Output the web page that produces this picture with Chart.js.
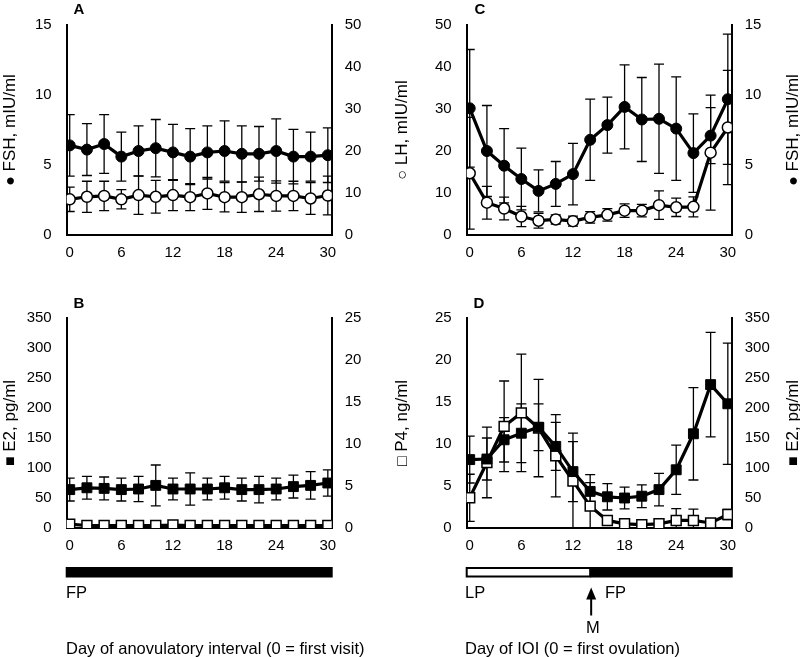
<!DOCTYPE html>
<html>
<head>
<meta charset="utf-8">
<script src="https://cdn.jsdelivr.net/npm/chart.js@4.4.0/dist/chart.umd.min.js"></script>
<style>
body { margin: 0; background: #fff; }
#wrap { position: relative; width: 800px; height: 657px; overflow: hidden; font-family: "Liberation Sans", Arial, sans-serif; color: #000; }
canvas { position: absolute; }
.lbl { position: absolute; white-space: nowrap; font-size: 16.5px; line-height: 1; transform: translateY(-50%); }
.ytitle { position: absolute; white-space: nowrap; font-size: 17px; line-height: 1; transform: translate(-50%, -50%) rotate(-90deg); }
.sym { font-size: 16px; vertical-align: 0; }
.letter { position: absolute; font-weight: bold; font-size: 15px; line-height: 1; transform: translate(-50%, -50%); }
</style>
</head>
<body>
<div id="wrap">
  <canvas id="cA" width="400" height="290" style="left:0;top:0"></canvas>
  <canvas id="cC" width="400" height="290" style="left:400px;top:0"></canvas>
  <canvas id="cB" width="400" height="364" style="left:0;top:293px"></canvas>
  <canvas id="cD" width="400" height="364" style="left:400px;top:293px"></canvas>

  <div class="letter" style="left:79px;top:8px">A</div>
  <div class="letter" style="left:79px;top:302px">B</div>
  <div class="letter" style="left:480px;top:8px">C</div>
  <div class="letter" style="left:479px;top:302px">D</div>

  <div class="ytitle" style="left:9px;top:130px"><span class="sym">●</span> FSH, mIU/ml</div>
  <div class="ytitle" style="left:401px;top:130px"><span class="sym">○</span> LH, mIU/ml</div>
  <div class="ytitle" style="left:792px;top:130px"><span class="sym">●</span> FSH, mIU/ml</div>
  <div class="ytitle" style="left:9px;top:423px"><span class="sym">■</span> E2, pg/ml</div>
  <div class="ytitle" style="left:401px;top:423px"><span class="sym">□</span> P4, ng/ml</div>
  <div class="ytitle" style="left:792px;top:423px"><span class="sym">■</span> E2, pg/ml</div>

  <div class="lbl" style="left:66px;top:592px">FP</div>
  <div class="lbl" style="left:465px;top:592px">LP</div>
  <div class="lbl" style="left:605px;top:592px">FP</div>
  <div class="lbl" style="left:586px;top:627px">M</div>
  <div class="lbl" style="left:66px;top:648px">Day of anovulatory interval (0 = first visit)</div>
  <div class="lbl" style="left:465px;top:648px">Day of IOI (0 = first ovulation)</div>
</div>
<script>
// days sampled every 2 days
const days = [0, 2, 4, 6, 8, 10, 12, 14, 16, 18, 20, 22, 24, 26, 28, 30];
const dayTicks = [0, 6, 12, 18, 24, 30];
const fshTicks = [0, 5, 10, 15];
const lhTicks = [0, 10, 20, 30, 40, 50];
const e2Ticks = [0, 50, 100, 150, 200, 250, 300, 350];
const p4Ticks = [0, 5, 10, 15, 20, 25];

// A: anovulatory interval, gonadotropins
const fshA    = [6.4, 6.1, 6.5, 5.6, 6.0, 6.2, 5.9, 5.6, 5.9, 6.0, 5.8, 5.8, 6.0, 5.6, 5.6, 5.7];
const fshAErr = [2.2, 1.85, 2.1, 1.75, 1.8, 2.05, 2.0, 2.0, 1.9, 2.15, 2.0, 1.95, 2.3, 1.95, 1.75, 1.95];
const lhA     = [8.5, 9.1, 9.3, 8.5, 9.5, 9.1, 9.5, 9.0, 9.9, 9.0, 9.0, 9.7, 9.3, 9.3, 8.7, 9.4];
const lhAErr  = [2.9, 3.7, 3.5, 2.3, 4.6, 3.9, 3.7, 3.2, 3.8, 3.5, 3.6, 4.1, 3.6, 3.5, 3.8, 4.6];

// B: anovulatory interval, steroids
const e2B    = [64, 67, 66, 64, 65, 71, 65, 65, 65, 67, 64, 64, 65, 69, 71, 75];
const e2BErr = [19, 19, 19, 19, 21, 34, 18, 27, 18, 19, 19, 22, 18, 19, 23, 22];
const p4B    = [0.45, 0.3, 0.3, 0.3, 0.3, 0.3, 0.35, 0.3, 0.3, 0.3, 0.3, 0.3, 0.3, 0.3, 0.3, 0.3];

// C: interovulatory interval, gonadotropins
const fshC    = [9.05, 6.0, 4.95, 4.0, 3.15, 3.65, 4.35, 6.8, 7.85, 9.15, 8.25, 8.3, 7.6, 5.85, 7.1, 9.7];
const fshCErr = [4.2, 3.25, 2.65, 2.2, 1.5, 1.6, 2.2, 2.9, 2.0, 3.0, 3.0, 3.9, 3.7, 2.8, 2.0, 4.65];
const lhC     = [14.7, 7.7, 6.3, 4.4, 3.4, 3.7, 3.3, 4.2, 4.8, 5.8, 5.8, 7.1, 6.6, 6.7, 19.6, 25.6];
const lhCErr  = [13.3, 3.9, 2.7, 2.4, 1.75, 1.1, 1.2, 1.35, 1.5, 1.6, 1.5, 3.4, 2.2, 2.4, 13.7, 13.6];

// D: interovulatory interval, steroids
const p4D    = [3.6, 7.8, 12.1, 13.7, 11.9, 8.6, 5.6, 2.6, 0.9, 0.5, 0.4, 0.5, 0.9, 0.9, 0.6, 1.6];
const p4DErr = [2.8, 4.2, 5.4, 7.0, 5.8, 4.9, 5.7, 2.8, 0.5, 0.3, 0.2, 0.2, 1.4, 1.35, 0.2, 0.6];
const e2D    = [114, 115, 147, 158, 168, 136, 94, 61, 52, 50, 53, 64, 97, 157, 239, 207];
const e2DErr = [39, 35, 37, 49, 39, 40, 50, 28, 22, 18, 19, 27, 41, 77, 87, 101];

const mensesDay = 14;

const tickFont = { family: '"Liberation Sans", Arial, sans-serif', size: 15 };

const closedCircle = { pointStyle: 'circle', pointRadius: 5.5, pointBackgroundColor: '#000', pointBorderColor: '#000', pointBorderWidth: 1 };
const openCircle   = { pointStyle: 'circle', pointRadius: 5.5, pointBackgroundColor: '#fff', pointBorderColor: '#000', pointBorderWidth: 1.5 };
const closedSquare = { pointStyle: 'rect', pointRadius: 7, pointBackgroundColor: '#000', pointBorderColor: '#000', pointBorderWidth: 1 };
const openSquare   = { pointStyle: 'rect', pointRadius: 7, pointBackgroundColor: '#fff', pointBorderColor: '#000', pointBorderWidth: 1.5 };

function series(vals, err, axis, style, order) {
    return Object.assign({
        data: days.map((d, i) => ({ x: d, y: vals[i] })),
        err: err,
        yAxisID: axis,
        borderColor: '#000',
        borderWidth: 3.2,
        tension: 0,
        fill: false,
        order: order
    }, style);
}

// vertical error bars with caps
const errorBars = {
    id: 'errorBars',
    beforeDatasetsDraw(chart) {
        const ctx = chart.ctx, a = chart.chartArea, xs = chart.scales.x;
        ctx.save();
        ctx.beginPath();
        ctx.rect(a.left, a.top - 2, a.right - a.left, a.bottom - a.top + 2);
        ctx.clip();
        ctx.strokeStyle = '#000';
        ctx.lineWidth = 1.3;
        chart.data.datasets.forEach(ds => {
            if (!ds.err) return;
            const ys = chart.scales[ds.yAxisID];
            ds.data.forEach((p, i) => {
                const px = xs.getPixelForValue(p.x);
                const t = ys.getPixelForValue(p.y + ds.err[i]);
                const b = ys.getPixelForValue(p.y - ds.err[i]);
                ctx.beginPath();
                ctx.moveTo(px, t); ctx.lineTo(px, b);
                ctx.moveTo(px - 5, t); ctx.lineTo(px + 5, t);
                ctx.moveTo(px - 5, b); ctx.lineTo(px + 5, b);
                ctx.stroke();
            });
        });
        ctx.restore();
    }
};

// phase bar under the x axis (FP / LP with menses arrow)
function phaseBar(splitDay) {
    return {
        id: 'phaseBar',
        afterDraw(chart) {
            const ctx = chart.ctx, a = chart.chartArea, xs = chart.scales.x;
            const y0 = a.bottom + 39, h = 10.5;
            const l = a.left - 1, r = a.right + 1;
            ctx.save();
            ctx.fillStyle = '#000';
            if (splitDay == null) {
                ctx.fillRect(l, y0, r - l, h);
            } else {
                const sx = xs.getPixelForValue(splitDay);
                ctx.fillRect(sx, y0, r - sx, h);
                ctx.lineWidth = 2;
                ctx.strokeStyle = '#000';
                ctx.strokeRect(l + 1, y0 + 1, sx - l - 1, h - 2);
                // arrow marking menses
                ctx.beginPath();
                ctx.moveTo(sx + 1, y0 + h + 10);
                ctx.lineTo(sx - 4, y0 + h + 22);
                ctx.lineTo(sx + 6, y0 + h + 22);
                ctx.closePath();
                ctx.fill();
                ctx.fillRect(sx, y0 + h + 20, 2, 18);
            }
            ctx.restore();
        }
    };
}

function yAxis(position, ticks, width, pad) {
    return {
        type: 'linear',
        position: position,
        min: ticks[0],
        max: ticks[ticks.length - 1],
        afterBuildTicks: s => { s.ticks = ticks.map(v => ({ value: v })); },
        afterFit: s => { s.width = width; },
        grid: { display: false, drawTicks: false },
        border: { display: true, color: '#000', width: 2 },
        ticks: { font: tickFont, color: '#000', padding: pad }
    };
}

function makePanel(id, h, leftTicks, rightTicks, datasets, extra) {
    return new Chart(document.getElementById(id), {
        type: 'line',
        data: { datasets: datasets },
        options: {
            responsive: false,
            animation: false,
            devicePixelRatio: 1,
            events: [],
            layout: { padding: { top: 25, left: 0, right: 13.3, bottom: h - 235 - 30 } },
            plugins: { legend: { display: false }, tooltip: { enabled: false } },
            scales: {
                x: {
                    type: 'linear',
                    min: -0.35,
                    max: 30.45,
                    afterBuildTicks: s => { s.ticks = dayTicks.map(v => ({ value: v })); },
                    afterFit: s => { s.height = 30; },
                    grid: { display: false, drawTicks: false },
                    border: { display: true, color: '#000', width: 2 },
                    ticks: { font: tickFont, color: '#000', padding: 9, maxRotation: 0, autoSkip: false }
                },
                yL: yAxis('left', leftTicks, 66.7, 15),
                yR: yAxis('right', rightTicks, 55, 13)
            }
        },
        plugins: [errorBars].concat(extra || [])
    });
}

makePanel('cA', 290, fshTicks, lhTicks, [
    series(fshA, fshAErr, 'yL', closedCircle, 1),
    series(lhA, lhAErr, 'yR', openCircle, 0)
]);

makePanel('cC', 290, lhTicks, fshTicks, [
    series(fshC, fshCErr, 'yR', closedCircle, 1),
    series(lhC, lhCErr, 'yL', openCircle, 0)
]);

makePanel('cB', 364, e2Ticks, p4Ticks, [
    series(p4B, null, 'yR', openSquare, 0),
    series(e2B, e2BErr, 'yL', closedSquare, 1)
], [phaseBar(null)]);

makePanel('cD', 364, p4Ticks, e2Ticks, [
    series(p4D, p4DErr, 'yL', openSquare, 1),
    series(e2D, e2DErr, 'yR', closedSquare, 0)
], [phaseBar(mensesDay)]);
</script>
</body>
</html>
